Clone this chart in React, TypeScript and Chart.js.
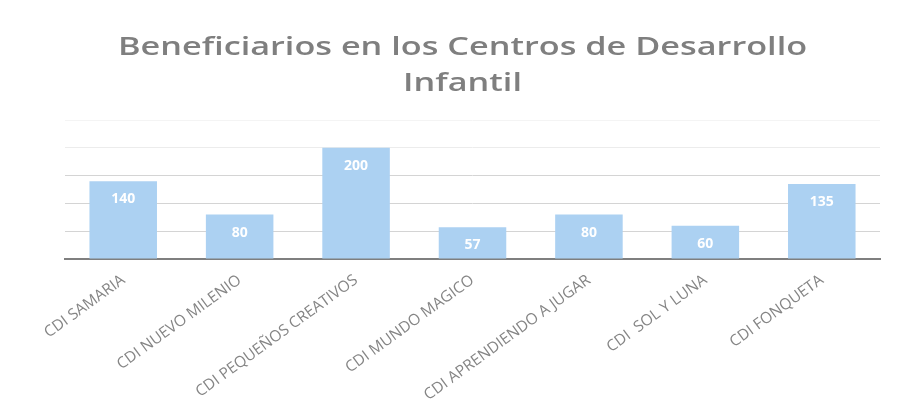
import React, { useEffect, useRef } from "react";
import { Chart, registerables } from "chart.js";

Chart.register(...registerables);

const categories = [
  "CDI SAMARIA",
  "CDI NUEVO MILENIO",
  "CDI PEQUEÑOS CREATIVOS",
  "CDI MUNDO MAGICO",
  "CDI APRENDIENDO A JUGAR",
  "CDI  SOL Y LUNA",
  "CDI FONQUETA",
];
const beneficiarios = [140, 80, 200, 57, 80, 60, 135];
const titleLines = ["Beneficiarios en los Centros de Desarrollo", "Infantil"];

const insideLabels = {
  id: "insideLabels",
  afterDatasetsDraw(chart: any) {
    const { ctx } = chart;
    const meta = chart.getDatasetMeta(0);
    const data = chart.data.datasets[0].data as number[];
    ctx.save();
    ctx.fillStyle = "#ffffff";
    ctx.font = "bold 14px 'Open Sans'";
    ctx.textAlign = "center";
    ctx.textBaseline = "middle";
    meta.data.forEach((bar: any, i: number) => {
      ctx.fillText(String(data[i]), bar.x, bar.y + 18);
    });
    ctx.restore();
  },
};

const stretchedTitle = {
  id: "stretchedTitle",
  afterDraw(chart: any) {
    const { ctx, width } = chart;
    ctx.save();
    ctx.fillStyle = "#7f7f7f";
    ctx.font = "600 25px 'Open Sans'";
    ctx.textAlign = "center";
    ctx.textBaseline = "middle";
    const lineYs = [48, 84];
    titleLines.forEach((line, i) => {
      ctx.save();
      ctx.translate(width / 2 + 13, lineYs[i]);
      ctx.scale(1.37, 1);
      ctx.fillText(line, 0, 0);
      ctx.restore();
    });
    ctx.restore();
  },
};

export default function App() {
  const ref = useRef<HTMLCanvasElement>(null);
  useEffect(() => {
    document.body.style.margin = "0";
    const chart = new Chart(ref.current!, {
      type: "bar",
      data: {
        labels: categories,
        datasets: [
          {
            data: beneficiarios,
            backgroundColor: "#acd1f2",
            barPercentage: 0.58,
            categoryPercentage: 1,
          },
        ],
      },
      options: {
        animation: false,
        responsive: false,
        layout: { padding: { left: 65, right: 19, top: 120, bottom: 0 } },
        plugins: {
          legend: { display: false },
          tooltip: { enabled: false },
          title: { display: false },
        },
        scales: {
          x: {
            grid: { display: false },
            border: { display: true, color: "#7f7f7f", width: 2 },
            ticks: {
              color: "#858585",
              font: { family: "'Open Sans'", size: 15.5 },
              minRotation: 36,
              maxRotation: 36,
              padding: 4,
            },
            afterFit(scale: any) {
              scale.height = 152;
            },
          },
          y: {
            min: 0,
            max: 250,
            ticks: { display: false, stepSize: 50 },
            grid: {
              color: (c: any) =>
                c.tick && c.tick.value > 200 ? "#f4f4f4" : c.tick && c.tick.value > 150 ? "#ececec" : "#d4d4d4",
              drawTicks: false,
            },
            border: { display: false },
          },
        },
      },
      plugins: [insideLabels, stretchedTitle],
    });
    return () => chart.destroy();
  }, []);
  return <canvas ref={ref} width={899} height={411} style={{ display: "block" }} />;
}
